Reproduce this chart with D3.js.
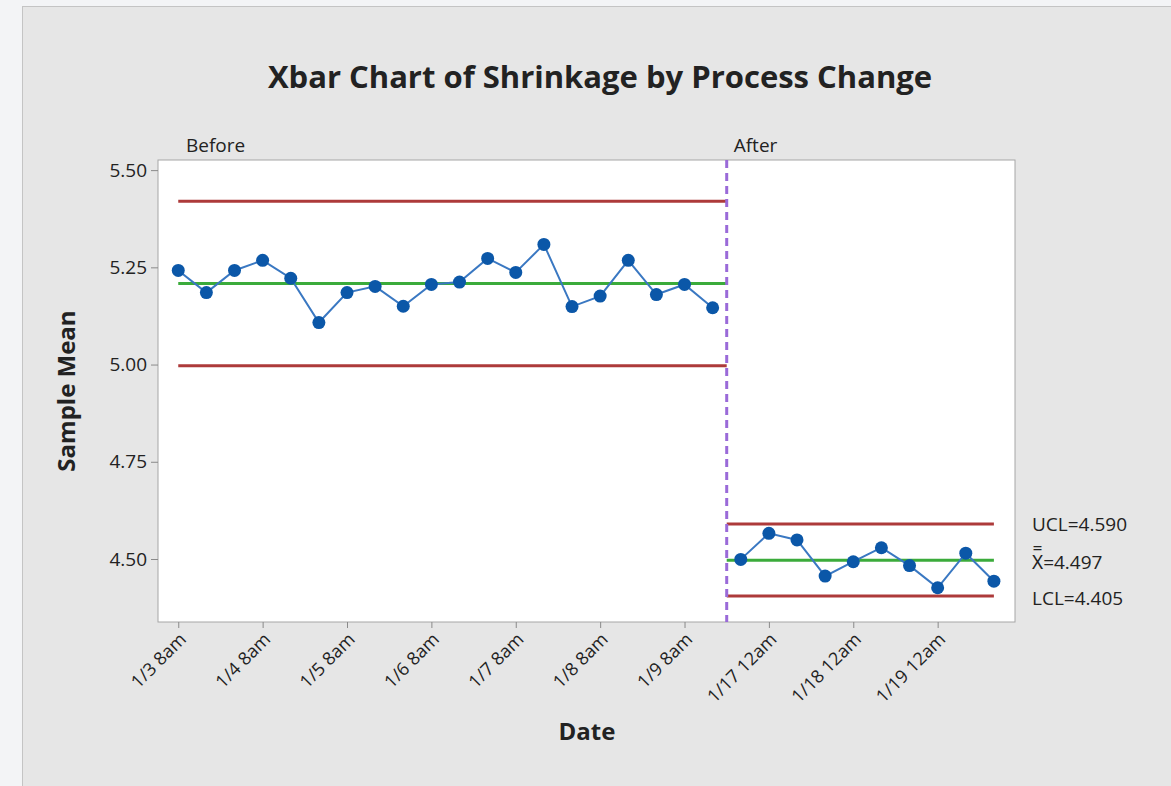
<!DOCTYPE html>
<html>
<head>
<meta charset="utf-8">
<script src="https://cdn.jsdelivr.net/npm/d3@7"></script>
<style>
  body { margin: 0; background: #f3f4f6; }
  svg text { font-family: "Open Sans", "Noto Sans", sans-serif; fill: #222; }
</style>
</head>
<body>
<svg id="chart" width="1171" height="786"></svg>
<script>
// sample means, one per subgroup
const beforeMeans = [5.242, 5.185, 5.242, 5.268, 5.222, 5.108, 5.185, 5.201, 5.150, 5.206,
  5.212, 5.273, 5.237, 5.309, 5.149, 5.176, 5.268, 5.180, 5.206, 5.146];
const afterMeans = [4.499, 4.566, 4.549, 4.456, 4.493, 4.529, 4.483, 4.426, 4.515, 4.443];

// control limits for each stage
const beforeLimits = { ucl: 5.420, cl: 5.2085, lcl: 4.997 };
const afterLimits = { ucl: 4.590, cl: 4.497, lcl: 4.405 };

const tickIndex = [0, 3, 6, 9, 12, 15, 18, 21, 24, 27];
const tickLabels = ['1/3 8am', '1/4 8am', '1/5 8am', '1/6 8am', '1/7 8am', '1/8 8am',
  '1/9 8am', '1/17 12am', '1/18 12am', '1/19 12am'];
const yTicks = [4.50, 4.75, 5.00, 5.25, 5.50];

const allMeans = beforeMeans.concat(afterMeans);
const splitAt = beforeMeans.length - 0.5;

const margin = { top: 160, right: 156, bottom: 164, left: 158 };
const width = 1171 - margin.left - margin.right;
const height = 786 - margin.top - margin.bottom;

const svg = d3.select('#chart');

// grey panel behind everything
svg.append('rect')
  .attr('x', 22.5).attr('y', 6.5)
  .attr('width', 1171).attr('height', 800)
  .attr('fill', '#e6e6e6')
  .attr('stroke', '#c4c4c4');

const x = d3.scaleLinear()
  .domain([-0.72, allMeans.length - 1 + 0.75])
  .range([0, width]);

const y = d3.scaleLinear()
  .domain([4.338, 5.526])
  .range([height, 0]);

const g = svg.append('g')
  .attr('transform', `translate(${margin.left}, ${margin.top})`);

// plot area
g.append('rect')
  .attr('width', width).attr('height', height)
  .attr('fill', '#fff')
  .attr('stroke', '#a6a6a6');

// y axis
const yAxis = g.append('g')
  .call(d3.axisLeft(y).tickValues(yTicks).tickFormat(d3.format('.2f')).tickSize(7).tickSizeOuter(0));
yAxis.select('.domain').remove();
yAxis.selectAll('line').attr('stroke', '#8a8a8a');
yAxis.selectAll('text').attr('font-size', 19).attr('x', -11);

// x axis
const xAxis = g.append('g')
  .attr('transform', `translate(0, ${height})`)
  .call(d3.axisBottom(x).tickValues(tickIndex).tickFormat((d, i) => tickLabels[i]).tickSize(6).tickSizeOuter(0));
xAxis.select('.domain').remove();
xAxis.selectAll('line').attr('stroke', '#8a8a8a');
xAxis.selectAll('text')
  .attr('font-size', 18)
  .attr('text-anchor', 'end')
  .attr('y', 0)
  .attr('dy', '0.35em')
  .attr('transform', 'translate(4, 14) rotate(-45)');

// control limit lines
const limitLines = [
  { from: 0, to: splitAt, lim: beforeLimits },
  { from: splitAt, to: allMeans.length - 1, lim: afterLimits }
];
limitLines.forEach((s) => {
  [['ucl', '#ad3a3a'], ['lcl', '#ad3a3a'], ['cl', '#3bab3b']].forEach(([k, c]) => {
    g.append('line')
      .attr('x1', x(s.from)).attr('x2', x(s.to))
      .attr('y1', y(s.lim[k])).attr('y2', y(s.lim[k]))
      .attr('stroke', c)
      .attr('stroke-width', 3);
  });
});

// stage divider
g.append('line')
  .attr('x1', x(splitAt)).attr('x2', x(splitAt))
  .attr('y1', 0).attr('y2', height)
  .attr('stroke', '#9a6ad8')
  .attr('stroke-width', 3)
  .attr('stroke-dasharray', '8,5');

const line = d3.line()
  .x((d) => x(d.i))
  .y((d) => y(d.v));

const stages = [
  beforeMeans.map((v, i) => ({ i, v })),
  afterMeans.map((v, i) => ({ i: i + beforeMeans.length, v }))
];

stages.forEach((pts) => {
  g.append('path')
    .datum(pts)
    .attr('d', line)
    .attr('fill', 'none')
    .attr('stroke', '#3a78c2')
    .attr('stroke-width', 2);

  g.selectAll(null)
    .data(pts)
    .enter()
    .append('circle')
    .attr('cx', (d) => x(d.i))
    .attr('cy', (d) => y(d.v))
    .attr('r', 6.5)
    .attr('fill', '#0b57a8');
});

// stage labels
g.append('text').attr('x', 28).attr('y', -8).attr('font-size', 19).text('Before');
g.append('text').attr('x', x(splitAt) + 7).attr('y', -8).attr('font-size', 19).text('After');

// limit labels on the right
const labelX = width + 17;
g.append('text').attr('x', labelX).attr('y', y(afterLimits.ucl) + 7).attr('font-size', 19)
  .text(`UCL=${afterLimits.ucl.toFixed(3)}`);
g.append('text').attr('x', labelX).attr('y', y(afterLimits.cl) + 9).attr('font-size', 19)
  .text(`X\u033F=${afterLimits.cl.toFixed(3)}`);
g.append('text').attr('x', labelX).attr('y', y(afterLimits.lcl) + 9).attr('font-size', 19)
  .text(`LCL=${afterLimits.lcl.toFixed(3)}`);

// titles
svg.append('text')
  .attr('x', 600).attr('y', 88)
  .attr('text-anchor', 'middle')
  .attr('font-size', 31)
  .attr('font-weight', 'bold')
  .text('Xbar Chart of Shrinkage by Process Change');

svg.append('text')
  .attr('x', 587).attr('y', 740)
  .attr('text-anchor', 'middle')
  .attr('font-size', 24)
  .attr('font-weight', 'bold')
  .text('Date');

svg.append('text')
  .attr('transform', 'translate(75, 391) rotate(-90)')
  .attr('text-anchor', 'middle')
  .attr('font-size', 24)
  .attr('font-weight', 'bold')
  .text('Sample Mean');
</script>
</body>
</html>
